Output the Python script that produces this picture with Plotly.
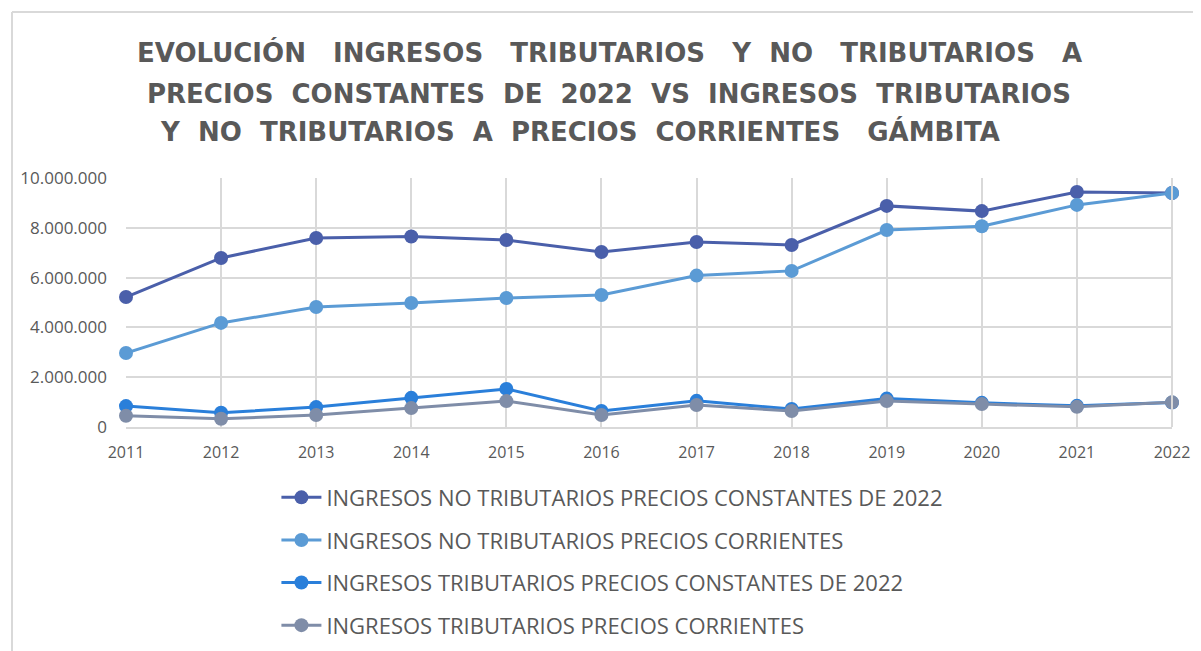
import plotly.graph_objects as go

years = [2011, 2012, 2013, 2014, 2015, 2016, 2017, 2018, 2019, 2020, 2021, 2022]
no_trib_const = [5220000, 6790000, 7590000, 7650000, 7510000, 7030000, 7430000, 7310000, 8880000, 8670000, 9440000, 9400000]
no_trib_corr = [2970000, 4180000, 4820000, 4980000, 5180000, 5300000, 6080000, 6270000, 7910000, 8060000, 8920000, 9400000]
trib_const = [840000, 570000, 800000, 1170000, 1530000, 640000, 1050000, 720000, 1140000, 970000, 850000, 980000]
trib_corr = [450000, 330000, 480000, 760000, 1040000, 480000, 880000, 640000, 1040000, 920000, 810000, 990000]

names = [
    "INGRESOS NO TRIBUTARIOS PRECIOS CONSTANTES DE 2022",
    "INGRESOS NO TRIBUTARIOS PRECIOS CORRIENTES",
    "INGRESOS TRIBUTARIOS PRECIOS CONSTANTES DE 2022",
    "INGRESOS TRIBUTARIOS PRECIOS CORRIENTES",
]
colors = ["#4A5FAA", "#5B9BD5", "#2A7FDA", "#7F8DA8"]
series = [no_trib_const, no_trib_corr, trib_const, trib_corr]

title_lines = [
    "EVOLUCIÓN   INGRESOS   TRIBUTARIOS   Y  NO   TRIBUTARIOS   A",
    "PRECIOS  CONSTANTES  DE  2022  VS  INGRESOS  TRIBUTARIOS",
    "Y  NO  TRIBUTARIOS  A  PRECIOS  CORRIENTES   GÁMBITA",
]
title_pos = [(0.4627, 1.506), (0.4613, 1.339), (0.434, 1.185)]

fig = go.Figure()
for i, (n, s, c) in enumerate(zip(names, series, colors)):
    fig.add_trace(go.Scatter(
        x=years, y=s, name=n, mode="lines+markers",
        line=dict(color=c, width=3),
        marker=dict(color=c, size=14),
        legendgroup=f"g{i}",
    ))

annotations = []
for t, (ax, ay) in zip(title_lines, title_pos):
    annotations.append(dict(
        text=t, xref="paper", yref="paper", x=ax, y=ay,
        xanchor="center", yanchor="middle", showarrow=False,
        font=dict(family="DejaVu Sans", size=26, color="#595959", weight="bold"),
    ))

fig.update_layout(
    width=1193, height=643,
    paper_bgcolor="white", plot_bgcolor="white",
    margin=dict(l=118, r=29, t=170, b=224, autoexpand=False),
    font=dict(family="Open Sans", color="#595959"),
    showlegend=True,
    annotations=annotations,
    legend=dict(x=0.1438, y=-0.199, xanchor="left", yanchor="top",
                font=dict(size=22, color="#595959", family="Open Sans"),
                tracegroupgap=11, itemwidth=40, bgcolor="rgba(0,0,0,0)"),
    xaxis=dict(range=[2011, 2022], tickvals=years, ticktext=[str(y) for y in years],
               showgrid=True, gridcolor="#D9D9D9", gridwidth=2,
               showline=True, linecolor="#D9D9D9", linewidth=2, mirror=False,
               tickfont=dict(size=16, color="#595959"), ticks="", zeroline=False,
               ticklabelstandoff=10),
    yaxis=dict(range=[0, 10000000], tickvals=[0, 2000000, 4000000, 6000000, 8000000, 10000000],
               ticktext=["0", "2.000.000", "4.000.000", "6.000.000", "8.000.000", "10.000.000"],
               showgrid=True, gridcolor="#D9D9D9", gridwidth=2, zeroline=False,
               tickfont=dict(size=17, color="#595959"), ticks="", ticklabelstandoff=18),
    shapes=[
        dict(type="line", xref="paper", yref="paper", x0=-0.109, x1=1.1, y0=1.667, y1=1.667,
             line=dict(color="#D9D9D9", width=2)),
        dict(type="line", xref="paper", yref="paper", x0=-0.109, x1=-0.109, y0=1.667, y1=-1.0,
             line=dict(color="#D9D9D9", width=2)),
        dict(type="line", xref="paper", yref="paper", x0=1, x1=1, y0=0, y1=1,
             line=dict(color="#D9D9D9", width=2)),
    ],
)
fig.update_traces(cliponaxis=False)
fig.write_html("out.html")
